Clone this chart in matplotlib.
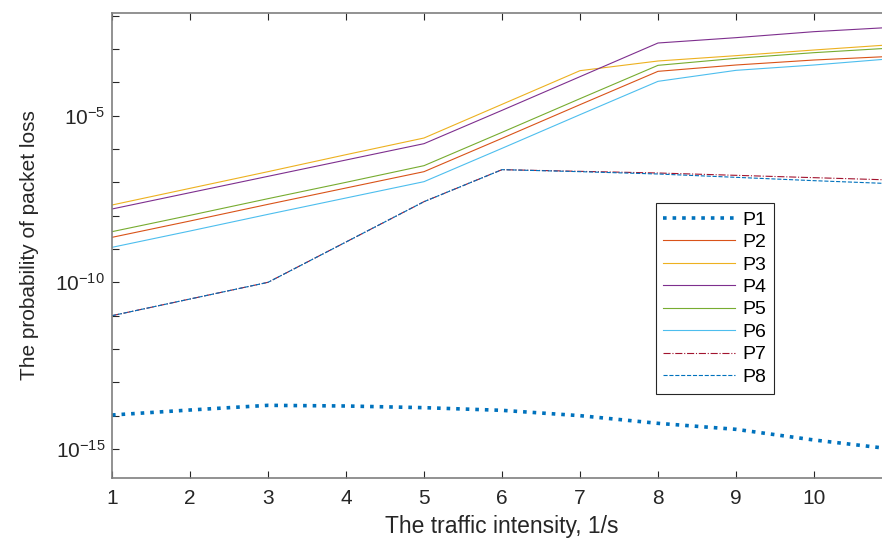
import numpy as np
import matplotlib.pyplot as plt

plt.rcParams['font.family'] = ['Liberation Sans', 'DejaVu Sans']

# --- Data (log10 of probability) ---
x = [1, 2, 3, 4, 5, 6, 7, 8, 9, 10, 11]

p1 = [-13.98, -13.83, -13.69, -13.71, -13.76, -13.84, -14.00, -14.23, -14.41, -14.73, -15.00]
p2 = [-8.65, -8.16, -7.66, -7.17, -6.68, -5.68, -4.67, -3.67, -3.48, -3.33, -3.22]
p3 = [-7.68, -7.18, -6.68, -6.17, -5.67, -4.66, -3.65, -3.36, -3.20, -3.03, -2.87]
p4 = [-7.80, -7.31, -6.82, -6.33, -5.84, -4.84, -3.83, -2.82, -2.66, -2.48, -2.35]
p5 = [-8.48, -7.99, -7.49, -7.00, -6.50, -5.50, -4.49, -3.49, -3.28, -3.11, -2.97]
p6 = [-8.95, -8.46, -7.96, -7.47, -6.98, -5.98, -4.97, -3.97, -3.64, -3.48, -3.29]
p7 = [-11.00, -10.50, -10.00, -8.79, -7.58, -6.62, -6.67, -6.72, -6.79, -6.86, -6.93]
p8 = [-11.00, -10.50, -10.00, -8.79, -7.58, -6.62, -6.68, -6.75, -6.85, -6.95, -7.04]

labels = ['P1', 'P2', 'P3', 'P4', 'P5', 'P6', 'P7', 'P8']
colors = ['#0072BD', '#D95319', '#EDB120', '#7E2F8E',
          '#77AC30', '#4DBEEE', '#A2142F', '#0072BD']
styles = [':', '-', '-', '-', '-', '-', '-.', '--']
widths = [2.6, 0.8, 0.8, 0.8, 0.8, 0.8, 0.8, 0.8]

series = [p1, p2, p3, p4, p5, p6, p7, p8]

fig = plt.figure(figsize=(8.82, 5.43), dpi=100)
ax = fig.add_axes([112 / 882, 65 / 543, 780 / 882, 465 / 543])

for s, lab, c, ls, lw in zip(series, labels, colors, styles, widths):
    ax.plot(x, 10.0 ** np.array(s), color=c, linestyle=ls, linewidth=lw, label=lab)

ax.set_yscale('log')
ax.set_xlim(1, 11)
ax.set_ylim(10 ** -15.87, 10 ** -1.92)

ax.set_xticks(range(1, 11))
ax.set_xticklabels([str(i) for i in range(1, 11)])
ax.set_yticks([10.0 ** e for e in range(-15, -1)])
ax.set_yticklabels([r'$\mathregular{10^{%d}}$' % e if e % 5 == 0 else ''
                    for e in range(-15, -1)])
ax.minorticks_off()

ax.tick_params(direction='in', length=5, width=0.8, colors='#262626',
               labelsize=15, top=True, right=True, pad=8)
ax.tick_params(axis='y', pad=5)
for sp in ax.spines.values():
    sp.set_color('#7f7f7f')
    sp.set_linewidth(1.2)

ax.set_xlabel('The traffic intensity, 1/s', fontsize=16.5, color='#262626', labelpad=5)
ax.set_ylabel('The probability of packet loss', fontsize=15, color='#262626', labelpad=12)

leg = ax.legend(loc='upper left', bbox_to_anchor=(0.697, 0.591), borderaxespad=0,
                fontsize=14, handlelength=3.7, handletextpad=0.35, labelspacing=0.25,
                fancybox=False, framealpha=1, edgecolor='#262626', borderpad=0.4)
leg.get_frame().set_linewidth(0.8)

fig.savefig('out.png', dpi=100)
